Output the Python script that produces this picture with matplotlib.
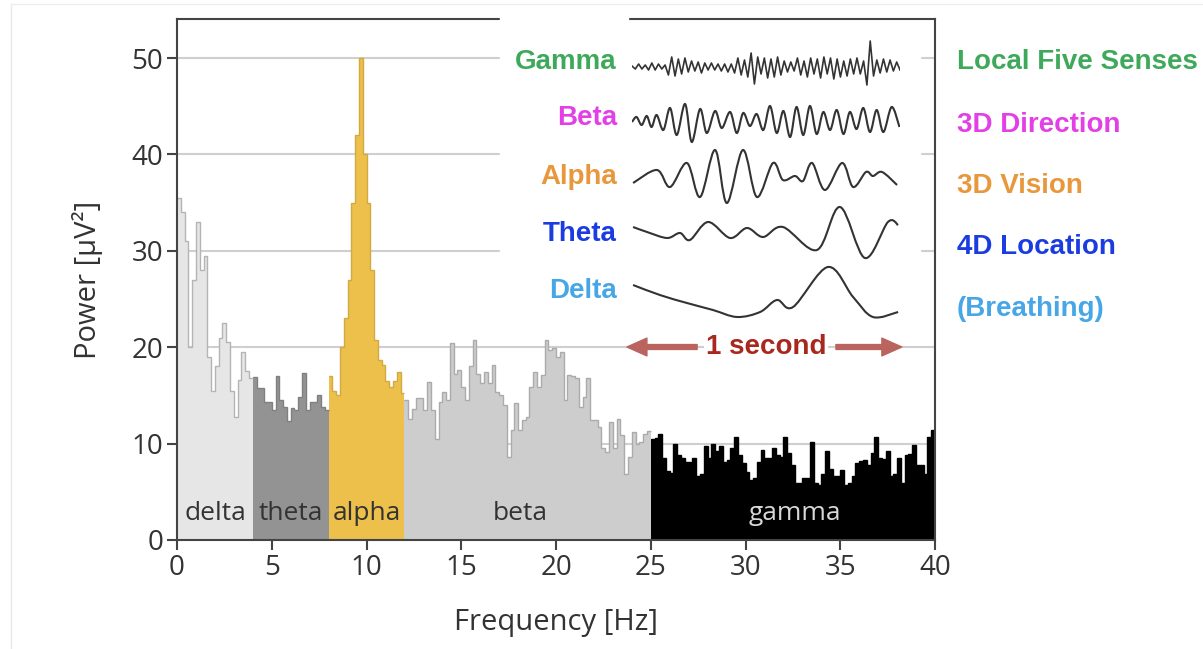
import numpy as np
import matplotlib.pyplot as plt
from matplotlib.patches import Rectangle, PathPatch
from matplotlib.path import Path

plt.rcParams['font.family'] = ['Open Sans', 'DejaVu Sans']

# --- power spectrum, 0.2 Hz bins ---
bin_width = 0.2
delta_power = [35.5, 34.0, 31.0, 20.0, 27.0, 33.0, 28.0, 29.5, 19.0, 15.5,
               18.0, 21.0, 22.5, 20.5, 15.5, 12.8, 16.6, 19.5, 17.5, 16.8]
theta_power = [16.9, 15.8, 15.8, 14.3, 14.3, 13.5, 17.0, 14.5, 13.8, 12.3,
               13.7, 13.5, 14.8, 17.3, 13.5, 14.3, 14.3, 15.0, 13.8, 13.5]
alpha_power = [17.0, 15.5, 15.0, 20.0, 23.0, 27.0, 35.0, 42.0, 50.0, 40.0,
               35.0, 28.0, 20.7, 18.7, 18.2, 16.5, 15.9, 16.5, 17.4, 15.2]
beta_power = [14.5, 12.6, 13.6, 14.7, 14.7, 13.5, 16.4, 13.5, 10.5, 14.3,
              15.4, 14.5, 20.4, 17.2, 17.6, 15.9, 14.5, 18.0, 20.7, 17.2,
              16.3, 17.4, 16.3, 18.2, 15.4, 15.0, 14.0, 8.6, 11.4, 14.2,
              11.4, 12.4, 12.8, 15.9, 17.4, 15.9, 17.1, 20.7, 19.7, 19.9,
              19.0, 19.5, 14.5, 17.1, 17.0, 16.8, 13.8, 14.8, 16.8, 12.4,
              12.4, 11.7, 9.5, 9.1, 12.2, 9.5, 12.6, 10.9, 6.8, 8.6,
              11.2, 10.0, 10.2, 11.0, 11.3]
gamma_power = [10.5, 10.6, 11.0, 8.5, 7.2, 7.0, 10.0, 8.8, 8.5, 8.1,
               8.1, 8.5, 6.6, 6.8, 9.7, 8.5, 10.0, 9.2, 9.7, 8.1,
               8.3, 9.5, 10.7, 8.8, 8.0, 7.1, 6.2, 6.4, 8.1, 9.3,
               8.5, 8.5, 9.5, 8.8, 8.6, 10.7, 9.0, 7.8, 5.9, 5.9,
               6.4, 6.4, 10.2, 5.9, 5.7, 6.8, 9.2, 7.4, 6.6, 6.6,
               7.3, 5.7, 5.9, 6.6, 8.0, 8.2, 8.3, 7.8, 9.0, 10.7,
               8.5, 8.4, 9.2, 6.6, 6.8, 8.5, 5.9, 8.8, 8.9, 9.9,
               7.8, 7.8, 6.8, 10.7, 11.4]

band_names = ["delta", "theta", "alpha", "beta", "gamma"]
band_start = [0, 4, 8, 12, 25]
band_power = [delta_power, theta_power, alpha_power, beta_power, gamma_power]
band_label_x = [2.0, 6.0, 10.0, 18.1, 32.6]
band_fill = ["#e6e6e6", "#939393", "#ecc04b", "#cdcdcd", "#000000"]
band_edge = ["#b4b4b4", "#808080", "#d2aa42", "#ababab", "#000000"]
band_text = ["#333333", "#333333", "#333333", "#333333", "#d8d8d8"]

# --- example EEG traces (time in s, amplitude in arbitrary units) ---
gamma_amp = [1, -2, 3, -2, 2, -3, 4, -3, 3, -2, 2,
             -8, 10, -9, 8, -7, 9,
             -5, 6, -4, 5, -6, 4,
             -3, 4, -3, 3, -4, 3, -5, 3,
             -6, 9, -8, 7, -10, 14, -17, 10, -7,
             9, -11, 8, -10, 10, -8, 6, -5,
             5, -4, 9, -8, 6, -10, 9, -7,
             8, -11, 10, -7, 9, -12, 8, -10, 6, -9,
             8, -7, 9, -7, 6, -18, 26, -9,
             7, -6, 8, -5, 7, -4, 5, -3]
beta_t = [0.000, 0.017, 0.036, 0.055, 0.073, 0.092, 0.117, 0.142, 0.167, 0.198,
          0.223, 0.254, 0.279, 0.310, 0.335, 0.366, 0.391, 0.415, 0.440, 0.465,
          0.490, 0.515, 0.540, 0.565, 0.590, 0.614, 0.639, 0.664, 0.689, 0.714,
          0.739, 0.764, 0.789, 0.813, 0.838, 0.863, 0.888, 0.913, 0.938, 0.969,
          0.998]
beta_amp = [0, 5, -3, 6, -5, 7, -8, 14, -13, 18,
            -20, 13, -11, 11, -6, 10, -11, 9, -4, 8,
            -8, 16, -11, 11, -15, 15, -13, 16, -12, 10,
            -8, 12, -12, 10, -7, 14, -10, 12, -10, 15,
            -5]
alpha_t = [0.004, 0.093, 0.142, 0.205, 0.254, 0.310, 0.354, 0.414, 0.466, 0.526,
           0.563, 0.608, 0.638, 0.672, 0.720, 0.784, 0.825, 0.873, 0.899, 0.933,
           0.989]
alpha_amp = [-5, 8, -9, 15, -19, 28, -25, 28, -19, 15,
             -2, 2, -3, 15, -12, 15, -9, 6, 2, 6,
             -7]
theta_t = [0.004, 0.056, 0.131, 0.179, 0.216, 0.284, 0.366, 0.429, 0.489, 0.563,
           0.690, 0.776, 0.869, 0.955, 0.993]
theta_amp = [7, 2, -4, 1, -6, 12, -4, 6, -3, 7, -16, 27, -24, 12, 9]
delta_t = [0.004, 0.104, 0.205, 0.302, 0.392, 0.478, 0.541, 0.601, 0.731, 0.825,
           0.899, 0.993]
delta_amp = [15, 5, -3, -10, -17, -12, 0, -7, 33, 3, -17, -12]

wave_names = ["Gamma", "Beta", "Alpha", "Theta", "Delta"]
wave_roles = ["Local Five Senses", "3D Direction", "3D Vision", "4D Location", "(Breathing)"]
wave_colors = ["#3fa95b", "#e23fe6", "#e8973b", "#1a3ce0", "#47a7e6"]


def smooth_path(t, y):
    # Catmull-Rom curve through the given points, as cubic Bezier segments
    pts = np.column_stack([t, y]).astype(float)
    verts = [pts[0]]
    codes = [Path.MOVETO]
    n = len(pts)
    for i in range(n - 1):
        p0 = pts[max(i - 1, 0)]
        p1 = pts[i]
        p2 = pts[i + 1]
        p3 = pts[min(i + 2, n - 1)]
        verts += [p1 + (p2 - p0) / 6, p2 - (p3 - p1) / 6, p2]
        codes += [Path.CURVE4] * 3
    return Path(verts, codes)


W, H = 1203, 649
fig = plt.figure(figsize=(W / 100, H / 100), dpi=100)
ax = fig.add_axes([177 / W, 1 - 540 / H, 758 / W, 521 / H])

for name, start, power, lx, fc, ec, tc in zip(band_names, band_start, band_power,
                                              band_label_x, band_fill, band_edge, band_text):
    edges = start + bin_width * np.arange(len(power) + 1)
    ax.stairs(power, edges, fill=True, color=fc, zorder=2)
    ax.stairs(power, edges, baseline=None, color=ec, lw=1.0, zorder=2.1)
    ax.text(lx, 2.7, name, ha="center", va="center", fontsize=19, color=tc, zorder=3)

ax.set_xlim(0, 40)
ax.set_ylim(0, 54.05)
ax.set_xticks(range(0, 41, 5))
ax.set_yticks(range(0, 51, 10))
ax.yaxis.grid(True, color="#cfcfcf", lw=1.5)
ax.set_axisbelow(True)
for s in ax.spines.values():
    s.set_color("#444444")
    s.set_linewidth(1.5)
ax.tick_params(direction="out", length=7, width=1.5, color="#444444",
               labelsize=20, labelcolor="#333333", pad=3)
ax.set_xlabel("Frequency [Hz]", fontsize=21, color="#333333")
ax.set_ylabel("Power [μV²]", fontsize=21, color="#333333")
ax.xaxis.set_label_coords(0.5, -0.13)
ax.yaxis.set_label_coords(-0.098, 0.5)

# white panel behind the trace inset
fig.add_artist(Rectangle((500 / W, 1 - 338 / H), 420 / W, 314 / H,
                         transform=fig.transFigure, color="white", zorder=1))
fig.add_artist(Rectangle((500 / W, 1 - 26 / H), 128 / W, 18 / H,
                         transform=fig.transFigure, color="white", zorder=1))
# faint frame of the page
fig.add_artist(plt.Line2D([11 / W, 11 / W], [0, 1 - 4 / H], transform=fig.transFigure,
                          color="#e8e8e8", lw=1))
fig.add_artist(plt.Line2D([11 / W, 1], [1 - 4 / H, 1 - 4 / H], transform=fig.transFigure,
                          color="#eeeeee", lw=1))

# trace inset: x in seconds, y in row units
ins = fig.add_axes([632 / W, 1 - 360 / H, 268 / W, 330 / H])
ins.set_zorder(2)
ins.set_xlim(0, 1)
ins.set_ylim(-360, -30)
ins.axis("off")

row_level = [-67, -122, -178, -234, -300]
label_level = [-62, -118, -177, -234, -291]
role_level = [-62, -125, -186, -247, -309]

gamma_t = np.linspace(0, 1, len(gamma_amp))
ins.plot(gamma_t, row_level[0] + np.array(gamma_amp), color="#333333", lw=1.2)
for t, amp, lvl in [(beta_t, beta_amp, row_level[1]), (alpha_t, alpha_amp, row_level[2]),
                    (theta_t, theta_amp, row_level[3]), (delta_t, delta_amp, row_level[4])]:
    path = smooth_path(t, lvl + np.array(amp))
    ins.add_patch(PathPatch(path, fill=False, edgecolor="#333333", lw=1.5))

for name, role, col, ly, ry in zip(wave_names, wave_roles, wave_colors, label_level, role_level):
    ins.text(-0.056, ly, name, ha="right", va="center", fontsize=20, fontweight="bold",
             color=col, family="Liberation Sans", clip_on=False)
    ins.text(1.213, ry, role, ha="left", va="center", fontsize=20, fontweight="bold",
             color=col, family="Liberation Sans", clip_on=False)

# one second scale bar
arrow_kw = dict(arrowstyle="simple,head_length=0.9,head_width=0.8,tail_width=0.22",
                color="#b9645f", shrinkA=0, shrinkB=0, mutation_scale=16)
ins.annotate("", xy=(-0.019, -347), xytext=(0.243, -347), arrowprops=arrow_kw,
             annotation_clip=False)
ins.annotate("", xy=(1.007, -347), xytext=(0.761, -347), arrowprops=arrow_kw,
             annotation_clip=False)
ins.text(0.5, -347, "1 second", ha="center", va="center", fontsize=20, fontweight="bold",
         color="#a8281e", family="Liberation Sans",
         bbox=dict(facecolor="white", edgecolor="none", pad=1))

fig.savefig("out.png", dpi=100, facecolor="white")
